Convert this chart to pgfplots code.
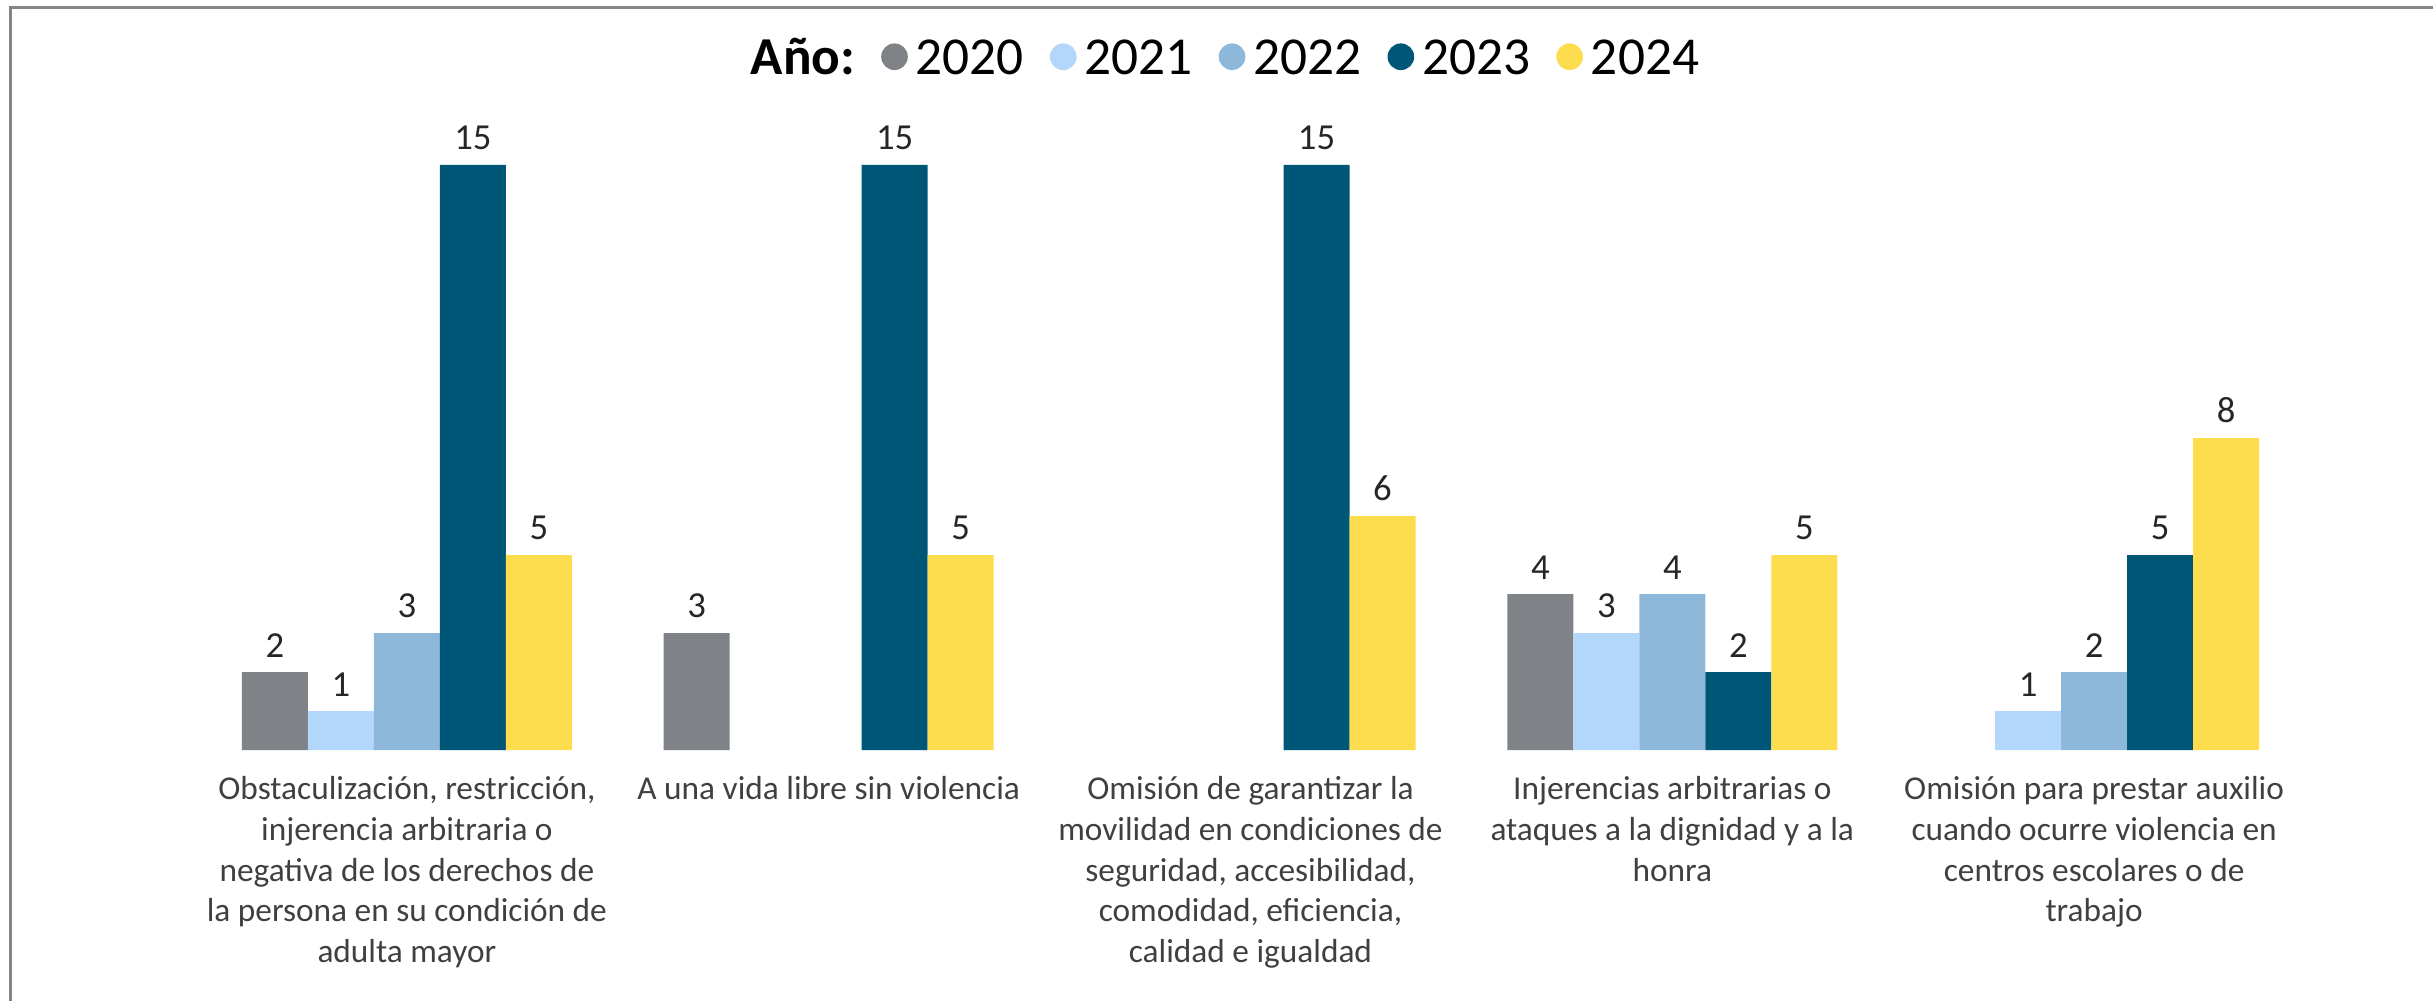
\documentclass[border=0pt]{standalone}
\usepackage{pgfplots}
\pgfplotsset{compat=1.18}
\usepackage{fontspec}
\setmainfont{Carlito}

\definecolor{c2020}{HTML}{7F8287}
\definecolor{c2021}{HTML}{B2D7FA}
\definecolor{c2022}{HTML}{8DB8D9}
\definecolor{c2023}{HTML}{005677}
\definecolor{c2024}{HTML}{FDDC4E}
\definecolor{labelgray}{HTML}{404040}
\definecolor{numgray}{HTML}{262626}
\definecolor{framegray}{HTML}{858585}

\begin{document}
\begin{tikzpicture}
\useasboundingbox (0,0) rectangle (729.9pt,300pt);
\begin{axis}[
    at={(58.8pt,75pt)}, anchor=south west,
    scale only axis,
    width=632.7pt, height=187.2pt,
    xmin=-0.5, xmax=4.5, ymin=0, ymax=16,
    axis line style={draw=none},
    ybar, bar width=0.1565,
    xtick={0,1,2,3,4}, ytick=\empty,
    major tick length=0pt,
    xticklabels={
        {\strut Obstaculización, restricción,\\injerencia arbitraria o\\negativa de los derechos de\\la persona en su condición de\\adulta mayor},
        {\strut A una vida libre sin violencia},
        {\strut Omisión de garantizar la\\movilidad en condiciones de\\seguridad, accesibilidad,\\comodidad, eficiencia,\\calidad e igualdad},
        {\strut Injerencias arbitrarias o\\ataques a la dignidad y a la\\honra},
        {\strut Omisión para prestar auxilio\\cuando ocurre violencia en\\centros escolares o de\\trabajo}
    },
    xticklabel style={font=\fontsize{10}{12.2}\selectfont, text=labelgray,
        align=center, anchor=north, inner sep=0pt, yshift=-6.2pt},
    nodes near coords,
    nodes near coords style={font=\fontsize{11}{13}\selectfont, text=numgray,
        anchor=south, inner sep=0pt, yshift=4.3pt},
    /pgf/number format/assume math mode=true,
    clip=false,
    legend columns=-1,
    legend style={draw=none, fill=none, font=\fontsize{16}{19}\selectfont,
        at={(0.486,1.111)}, anchor=center,
        nodes={inner sep=0pt, text depth=0pt},
        /tikz/every odd column/.append style={column sep=2.4pt},
        /tikz/every even column/.append style={column sep=7.8pt},
        /tikz/column 2/.append style={column sep=1.2pt}},
]
\addlegendimage{empty legend}
\addlegendentry{\textbf{Año:}}

\addplot[fill=c2020, draw=none, bar shift=-0.313,
    legend image code/.code={\fill[c2020] (4pt,0pt) circle (4pt);}]
    coordinates {(0,2) (1,3) (3,4)};
\addlegendentry{2020}

\addplot[fill=c2021, draw=none, bar shift=-0.1565,
    legend image code/.code={\fill[c2021] (4pt,0pt) circle (4pt);}]
    coordinates {(0,1) (3,3) (4,1)};
\addlegendentry{2021}

\addplot[fill=c2022, draw=none, bar shift=0,
    legend image code/.code={\fill[c2022] (4pt,0pt) circle (4pt);}]
    coordinates {(0,3) (3,4) (4,2)};
\addlegendentry{2022}

\addplot[fill=c2023, draw=none, bar shift=0.1565,
    legend image code/.code={\fill[c2023] (4pt,0pt) circle (4pt);}]
    coordinates {(0,15) (1,15) (2,15) (3,2) (4,5)};
\addlegendentry{2023}

\addplot[fill=c2024, draw=none, bar shift=0.313,
    legend image code/.code={\fill[c2024] (4pt,0pt) circle (4pt);}]
    coordinates {(0,5) (1,5) (2,6) (3,5) (4,8)};
\addlegendentry{2024}
\end{axis}
\draw[line width=0.9pt, framegray] (3.2pt,-5pt) -- (3.2pt,297.6pt) -- (740pt,297.6pt);
\end{tikzpicture}
\end{document}
